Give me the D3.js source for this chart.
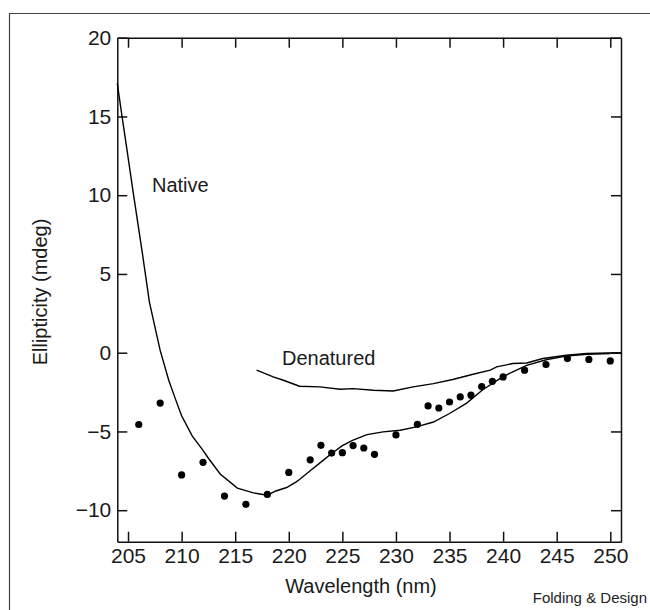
<meta charset="utf-8">
<head>
<title>Ellipticity vs wavelength</title>
</head>
<body style="margin:0;background:#fff">

<svg width="650" height="610"></svg>

</body>

<script src="https://d3js.org/d3.v7.min.js"></script>
<script>

// measured points (dots)
var dotWavelength = [206, 208, 210, 212, 214, 216, 218, 220, 222, 223, 224, 225, 226, 227, 228,
                     230, 232, 233, 234, 235, 236, 237, 238, 239, 240, 242, 244, 246, 248, 250];
var dotEllipticity = [-4.56, -3.2, -7.76, -6.96, -9.1, -9.63, -9.0, -7.6, -6.8, -5.88, -6.37, -6.35, -5.9, -6.05, -6.45,
                      -5.22, -4.55, -3.38, -3.51, -3.13, -2.81, -2.7, -2.15, -1.82, -1.54, -1.11, -0.75, -0.37, -0.43, -0.52];

// native curve
var nativeWavelength = [204.0, 204.4, 204.9, 205.5, 206.3, 207.0, 208.0, 208.8, 209.4, 210.0, 211.0, 212.0, 212.5,
                        213.6, 215.2, 216.7, 218.0, 218.8, 219.8, 220.7, 221.0, 222.0, 223.0, 224.0, 225.0, 226.0,
                        227.3, 228.8, 230.4, 231.9, 233.5, 235.0, 236.6, 238.1, 239.7, 240.6, 242.2, 244.1, 245.9,
                        247.8, 250.0];
var nativeEllipticity = [17.1, 15.2, 12.9, 10.1, 6.5, 3.2, 0.15, -1.75, -2.9, -4.0, -5.3, -6.2, -6.7,
                         -7.7, -8.6, -8.9, -9.05, -8.78, -8.56, -8.2, -8.05, -7.5, -6.95, -6.4, -5.9, -5.55,
                         -5.2, -5.03, -4.92, -4.71, -4.4, -3.86, -3.2, -2.35, -1.65, -1.32, -0.8, -0.43, -0.22,
                         -0.1, -0.05];

// denatured curve
var denatWavelength = [217.0, 218.55, 219.5, 221.0, 222.9, 224.8, 226.0, 227.9, 229.75, 231.6, 233.5, 235.3,
                       237.2, 238.8, 239.4, 240.9, 242.2, 243.7, 245.9, 247.8, 251.0];
var denatEllipticity = [-1.11, -1.54, -1.75, -2.13, -2.17, -2.32, -2.28, -2.38, -2.43, -2.17, -1.96, -1.7,
                        -1.37, -1.11, -0.9, -0.69, -0.65, -0.37, -0.16, -0.05, 0.0];

var xTicks = [205, 210, 215, 220, 225, 230, 235, 240, 245, 250];
var yTicks = [-10, -5, 0, 5, 10, 15, 20];


var svg = d3.select("svg"),
    margin = {top: 37.7, right: 29, bottom: 68.3, left: 117.3},
    width = +svg.attr("width") - margin.left - margin.right,
    height = +svg.attr("height") - margin.top - margin.bottom;

// frame of the figure panel
svg.append("line").attr("class", "frame")
    .attr("x1", 9).attr("y1", 13.5).attr("x2", 650).attr("y2", 13.5);
svg.append("line").attr("class", "frame")
    .attr("x1", 9.5).attr("y1", 13).attr("x2", 9.5).attr("y2", 610);

var x = d3.scaleLinear().domain([204, 251]).range([0, width]),
    y = d3.scaleLinear().domain([-12, 20]).range([height, 0]);

var g = svg.append("g")
   .attr("transform", "translate(" + margin.left + "," + margin.top + ")");

g.append("g")
    .attr("class", "axis")
    .attr("transform", "translate(0," + height + ")")
    .call(d3.axisBottom(x).tickValues(xTicks).tickSize(-10).tickSizeOuter(0).tickPadding(6));

g.append("g")
    .attr("class", "axis")
    .call(d3.axisTop(x).tickValues(xTicks).tickSize(-10).tickSizeOuter(0).tickFormat(""));

g.append("g")
    .attr("class", "axis")
    .call(d3.axisLeft(y).tickValues(yTicks).tickSize(-10).tickSizeOuter(0).tickPadding(6)
        .tickFormat(function(d) { return d < 0 ? "\u2212" + Math.abs(d) : d; }));

g.append("g")
    .attr("class", "axis")
    .attr("transform", "translate(" + width + ",0)")
    .call(d3.axisRight(y).tickValues(yTicks).tickSize(-10).tickSizeOuter(0).tickFormat(""));


var line = d3.line()
    .x(function(d) { return x(d[0]); })
    .y(function(d) { return y(d[1]); });

var nativeData = d3.zip(nativeWavelength, nativeEllipticity);
var denatData = d3.zip(denatWavelength, denatEllipticity);

g.append("path")
    .datum(denatData)
    .attr("class", "curve")
    .attr("d", line);

g.append("path")
    .datum(nativeData)
    .attr("class", "curve")
    .attr("d", line);

g.selectAll(".dot")
    .data(d3.zip(dotWavelength, dotEllipticity))
    .enter()
    .append("circle")
      .attr("class", "dot")
      .attr("cx", function(d) { return x(d[0]); })
      .attr("cy", function(d) { return y(d[1]); })
      .attr("r", 3.6);

/*labels*/
svg.append("text")
    .attr("class", "label")
    .attr("x", 152)
    .attr("y", 191.5)
    .text("Native");

svg.append("text")
    .attr("class", "label")
    .attr("x", 282)
    .attr("y", 365)
    .text("Denatured");

svg.append("text")
    .attr("class", "label")
    .attr("x", 361)
    .attr("y", 592.5)
    .attr("text-anchor", "middle")
    .text("Wavelength (nm)");

svg.append("text")
    .attr("class", "label")
    .attr("transform", "translate(46.5,292) rotate(-90)")
    .attr("text-anchor", "middle")
    .text("Ellipticity (mdeg)");

svg.append("text")
    .attr("class", "credit")
    .attr("x", 647)
    .attr("y", 602.5)
    .attr("text-anchor", "end")
    .text("Folding & Design");

</script>
<style>
.frame {
  stroke: #444;
  stroke-width: 1.2;
}
.axis path, .axis line {
  stroke: #111;
  stroke-width: 1.5;
}
.axis text {
  fill: #1a1a1a;
  font-family: "Liberation Sans", Arial, sans-serif;
  font-size: 21px;
}
.curve {
  fill: none;
  stroke: #000;
  stroke-width: 1.4;
}
.dot {
  fill: #000;
}
.label {
  fill: #1a1a1a;
  font-family: "Liberation Sans", Arial, sans-serif;
  font-size: 20px;
}
.credit {
  fill: #222;
  font-family: "Liberation Sans", Arial, sans-serif;
  font-size: 15px;
}
</style>
